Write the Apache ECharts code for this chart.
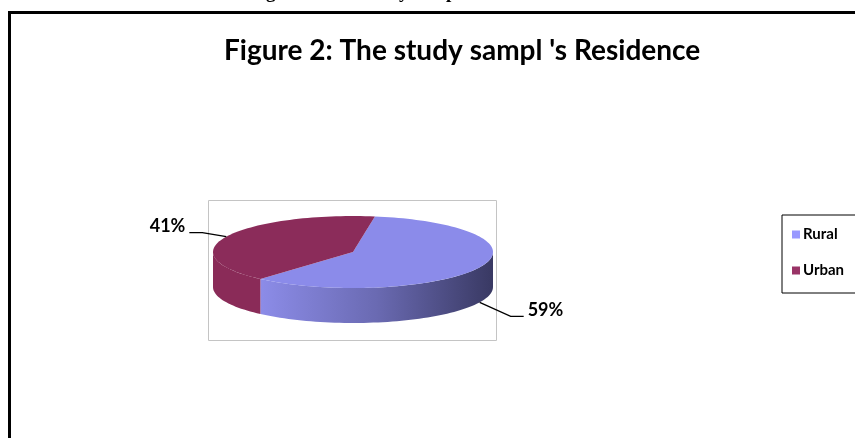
<!DOCTYPE html>
<html>
<head>
<meta charset="utf-8">
<script src="https://cdn.jsdelivr.net/npm/echarts@6/dist/echarts.min.js"></script>
<style>
html,body{margin:0;padding:0;background:#fff;}
#chart{width:855px;height:438px;}
</style>
</head>
<body>
<div id="chart"></div>
<script>
// data
var categories = ['Rural', 'Urban'];
var values = [59, 41];

var chart = echarts.init(document.getElementById('chart'));

// 3d pie geometry
var CX = 353, CY = 252, RX = 140, RY = 36, DEPTH = 35, START = 9;
var topColors = ['#8b8bea', '#8b2c5a'];
var legendColors = ['#9999ff', '#993366'];
var wallColors = [
    { type: 'linear', x: 0, y: 0, x2: 1, y2: 0,
      colorStops: [{ offset: 0, color: '#8c8ce8' }, { offset: 0.5, color: '#6a6ab2' }, { offset: 1, color: '#393963' }] },
    '#8a2b58'
];

function pt(a, dy) {
    var r = a * Math.PI / 180;
    return [CX + RX * Math.sin(r), CY - RY * Math.cos(r) + (dy || 0)];
}

function arc(a0, a1, dy) {
    var pts = [];
    var n = Math.max(2, Math.ceil(Math.abs(a1 - a0) / 2));
    for (var k = 0; k <= n; k++) {
        pts.push(pt(a0 + (a1 - a0) * k / n, dy));
    }
    return pts;
}

function sliceRender(idx) {
    return function (params, api) {
        var total = 0, before = 0;
        for (var j = 0; j < values.length; j++) {
            total += values[j];
            if (j < idx) before += values[j];
        }
        var a0 = START + before / total * 360;
        var a1 = a0 + api.value(0) / total * 360;
        var children = [];

        // front wall
        var s = Math.max(a0, 90), e = Math.min(a1, 270);
        if (s < e) {
            var wall = arc(s, e, 0).concat(arc(e, s, DEPTH));
            children.push({ type: 'polygon', shape: { points: wall },
                style: { fill: wallColors[idx], stroke: null } });
        }
        // top face
        var top = [[CX, CY]].concat(arc(a0, a1, 0));
        children.push({ type: 'polygon', shape: { points: top },
            style: { fill: topColors[idx], stroke: null } });

        // label with leader
        var mid = (a0 + a1) / 2;
        var rad = mid * Math.PI / 180;
        var front = Math.cos(rad) < 0;
        var side = Math.sin(rad) >= 0 ? 1 : -1;
        var p = pt(mid, front ? DEPTH : 0);
        var elbow = [p[0] + (side > 0 ? 31 : -24), p[1] + (front ? 14 : -4)];
        var end = [elbow[0] + side * 13, elbow[1]];
        children.push({ type: 'polyline', shape: { points: [p, elbow, end] },
            style: { stroke: '#000', lineWidth: 1.3, fill: null } });
        children.push({ type: 'text', x: end[0] + side * 4, y: end[1] - 6,
            style: { text: Math.round(api.value(0) / total * 100) + '%',
                fill: '#000', font: 'bold 18px Lato, "Open Sans", sans-serif',
                align: side > 0 ? 'left' : 'right', verticalAlign: 'middle' } });

        return { type: 'group', children: children };
    };
}

var series = [];
for (var i = 0; i < categories.length; i++) {
    series.push({
        type: 'custom',
        name: categories[i],
        coordinateSystem: 'none',
        itemStyle: { color: legendColors[i] },
        data: [[values[i]]],
        renderItem: sliceRender(i)
    });
}

var option = {
    animation: false,
    color: legendColors,
    title: {
        text: "Figure 2: The study sampl 's Residence",
        left: 219,
        top: 32,
        textStyle: { color: '#000', fontSize: 28, fontWeight: 'bold', fontFamily: 'Lato, "Open Sans", sans-serif' }
    },
    legend: {
        orient: 'vertical',
        left: 782,
        top: 215,
        data: categories,
        icon: 'rect',
        itemWidth: 8,
        itemHeight: 8,
        itemGap: 21,
        padding: [12, 40, 15, 10],
        borderColor: '#000',
        borderWidth: 1,
        selectedMode: false,
        textStyle: { color: '#000', fontSize: 15, fontWeight: 'bold', fontFamily: 'Lato, "Open Sans", sans-serif', padding: [0, 0, 0, -2] }
    },
    graphic: [
        { type: 'text', x: 249, y: 3,
          style: { text: "Figure 2: The study sample's Residence", fill: '#000',
                   font: 'bold 19px "Liberation Serif", serif', verticalAlign: 'bottom' } },
        { type: 'rect', shape: { x: 9.5, y: 12.5, width: 1000, height: 1000 },
          style: { fill: null, stroke: '#000', lineWidth: 3 }, z: -1 },
        { type: 'rect', shape: { x: 208.5, y: 200.5, width: 288, height: 140 },
          style: { fill: null, stroke: '#c4c4c4', lineWidth: 1 }, z: -1 }
    ],
    series: series
};

chart.setOption(option);
</script>
</body>
</html>
